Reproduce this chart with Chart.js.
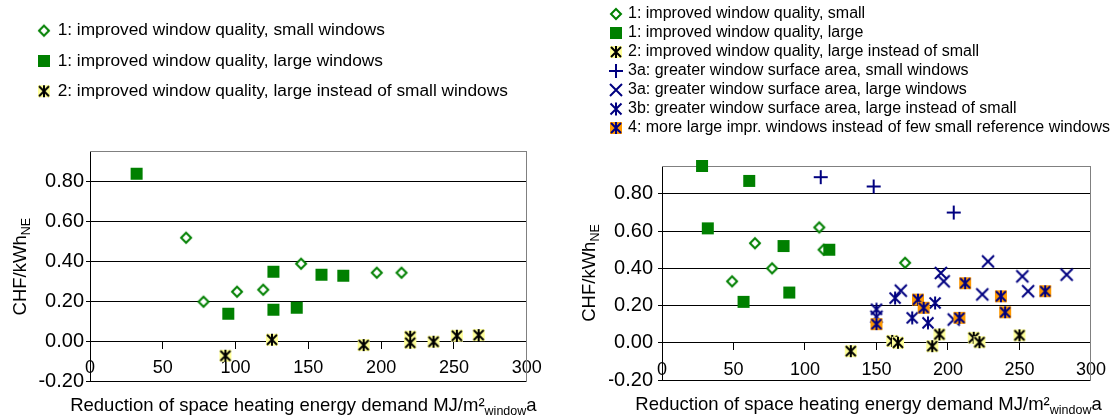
<!DOCTYPE html>
<html>
<head>
<meta charset="utf-8">
<title>Window measures - cost per kWh saved</title>
<script src="https://cdn.jsdelivr.net/npm/chart.js@4.4.0/dist/chart.umd.min.js"></script>
<style>
    html, body { margin: 0; padding: 0; background: #fff; overflow: hidden; }
    #leftBox { position: absolute; left: 0; top: 0; }
    #rightBox { position: absolute; left: 560px; top: 0; }
</style>
</head>
<body>
<div id="leftBox"><canvas id="chartLeft" width="560" height="420"></canvas></div>
<div id="rightBox"><canvas id="chartRight" width="555" height="420"></canvas></div>
<script>
// values: [reduction MJ/m2 window a, CHF/kWh]
const leftSmall = [[66, 0.52], [78, 0.20], [101, 0.25], [119, 0.26], [145, 0.39], [197, 0.345], [214, 0.345]];
const leftLarge = [[32, 0.84], [95, 0.14], [126, 0.35], [126, 0.16], [142, 0.17], [159, 0.335], [174, 0.33]];
const leftInstead = [[93, -0.07], [125, 0.01], [188, -0.017], [220, 0.025], [220, -0.005], [236, 0.0], [252, 0.03], [267, 0.033]];

const rightSmall = [[49, 0.33], [65, 0.535], [77, 0.40], [110, 0.62], [113, 0.50], [170, 0.43]];
const rightLarge = [[28, 0.95], [32, 0.615], [57, 0.22], [61, 0.87], [85, 0.52], [89, 0.27], [117, 0.50]];
const rightInstead = [[132, -0.045], [161, 0.01], [165, 0.0], [189, -0.018], [194, 0.045], [218, 0.027], [222, 0.003], [250, 0.04]];
const rightAreaSmall = [[111, 0.89], [148, 0.84], [204, 0.70]];
const rightAreaLarge = [[150, 0.14], [167, 0.28], [195, 0.375], [197, 0.33], [204, 0.125], [224, 0.26], [228, 0.437], [252, 0.357], [256, 0.277], [283, 0.366]];
const rightAreaInstead = [[150, 0.18], [163, 0.24], [175, 0.134], [186, 0.107], [191, 0.214]];
const rightMoreLarge = [[150, 0.10], [179, 0.232], [183, 0.188], [208, 0.134], [212, 0.32], [237, 0.25], [240, 0.164], [268, 0.277]];

const leftLabels = [
    '1: improved window quality, small windows',
    '1: improved window quality, large windows',
    '2: improved window quality, large instead of small windows'
];
const rightLabels = [
    '1: improved window quality, small',
    '1: improved window quality, large',
    '2: improved window quality, large instead of small',
    '3a: greater window surface area, small windows',
    '3a: greater window surface area, large windows',
    '3b: greater window surface area, large instead of small',
    '4: more large impr. windows instead of few small reference windows'
];

// axis ranges and tick steps
const xRange = [0, 300], xStep = 50;
const yRange = [-0.2, 0.95], yStep = 0.2;

// axis titles, split so the subscripts can be drawn smaller
const xTitle = [{ t: 'Reduction of space heating energy demand MJ/m²' }, { t: 'window', sub: true }, { t: 'a' }];
const yTitle = [{ t: 'CHF/kWh' }, { t: 'NE', sub: true }];

const FONT = "'Liberation Sans', Arial, sans-serif";
const GREEN = '#008000', NAVY = '#000080';

// marker pictures, used in the plot and in the legend
function makeMarker(kind) {
    var c = document.createElement('canvas');
    c.width = c.height = 16;
    var g = c.getContext('2d');
    var m = 8;
    g.lineWidth = 2;
    function star(r, col) {
        g.strokeStyle = col;
        g.beginPath();
        g.moveTo(m - r, m - r); g.lineTo(m + r, m + r);
        g.moveTo(m + r, m - r); g.lineTo(m - r, m + r);
        g.moveTo(m, m - r - 1); g.lineTo(m, m + r + 1);
        g.stroke();
    }
    if (kind === 'diamond') {
        g.fillStyle = '#fff';
        g.strokeStyle = GREEN;
        g.beginPath();
        g.moveTo(m, m - 5); g.lineTo(m + 5, m); g.lineTo(m, m + 5); g.lineTo(m - 5, m);
        g.closePath();
        g.fill(); g.stroke();
    } else if (kind === 'square') {
        g.fillStyle = GREEN;
        g.fillRect(2, 2, 12, 12);
    } else if (kind === 'yellow') {
        g.fillStyle = '#FFFF99';
        g.fillRect(2, 2, 12, 12);
        star(5, '#000');
    } else if (kind === 'plus') {
        g.strokeStyle = NAVY;
        g.beginPath();
        g.moveTo(1, m); g.lineTo(15, m);
        g.moveTo(m, 1); g.lineTo(m, 15);
        g.stroke();
    } else if (kind === 'cross') {
        g.strokeStyle = NAVY;
        g.beginPath();
        g.moveTo(2, 2); g.lineTo(14, 14);
        g.moveTo(14, 2); g.lineTo(2, 14);
        g.stroke();
    } else if (kind === 'star') {
        star(5.5, NAVY);
    } else if (kind === 'orange') {
        g.fillStyle = '#FF9900';
        g.fillRect(2, 2, 12, 12);
        star(5, NAVY);
    }
    return c;
}

function toPoints(arr) {
    return arr.map(p => ({ x: p[0], y: p[1] }));
}

function makeSets(labels, series, kinds) {
    return series.map((s, i) => ({
        label: labels[i],
        data: toPoints(s),
        pointStyle: makeMarker(kinds[i]),
        pointRadius: 7,
        showLine: false,
        clip: false,
        order: series.length - i // later series are drawn on top, as in the original
    }));
}

// axis titles with subscripts
function drawParts(ctx, parts, cx, baseline, size, subSize) {
    var widths = parts.map(p => {
        ctx.font = (p.sub ? subSize : size) + 'px ' + FONT;
        return ctx.measureText(p.t).width;
    });
    var total = widths.reduce((a, b) => a + b, 0);
    var x = cx - total / 2;
    parts.forEach((p, i) => {
        ctx.font = (p.sub ? subSize : size) + 'px ' + FONT;
        ctx.fillText(p.t, x, baseline + (p.sub ? 4 : 0));
        x += widths[i];
    });
}

const axisTitles = {
    id: 'axisTitles',
    afterDraw(chart, args, opts) {
        const ctx = chart.ctx, a = chart.chartArea;
        ctx.save();
        ctx.fillStyle = '#000';
        ctx.textAlign = 'left';
        ctx.textBaseline = 'alphabetic';
        drawParts(ctx, xTitle, (a.left + a.right) / 2 + opts.xShift, opts.xBaseline, 18.5, 12.5);
        ctx.translate(a.left - opts.yGap, (a.top + a.bottom) / 2);
        ctx.rotate(-Math.PI / 2);
        drawParts(ctx, yTitle, 0, 6.5, 18.5, 12.5);
        ctx.restore();
    }
};

function makeOptions(cfg) {
    return {
        responsive: false,
        animation: false,
        layout: { padding: cfg.padding },
        plugins: {
            legend: {
                position: 'top',
                align: 'start',
                labels: {
                    usePointStyle: true,
                    boxWidth: cfg.boxWidth,
                    padding: cfg.legendPadding,
                    color: '#000',
                    font: { family: FONT, size: cfg.legendSize },
                    sort: (a, b) => a.datasetIndex - b.datasetIndex
                }
            },
            tooltip: { enabled: false },
            axisTitles: cfg.titles
        },
        scales: {
            x: {
                type: 'linear',
                position: { y: 0 },
                min: xRange[0],
                max: xRange[1],
                ticks: { stepSize: xStep, padding: 9, maxRotation: 0, color: '#000', font: { family: FONT, size: 18 } },
                grid: { drawOnChartArea: false, tickLength: 7, color: '#000' },
                border: { color: '#000', width: 1 }
            },
            y: {
                type: 'linear',
                min: yRange[0],
                max: yRange[1],
                ticks: {
                    stepSize: yStep,
                    includeBounds: false,
                    padding: cfg.yPad,
                    color: '#000',
                    font: { family: FONT, size: 20 },
                    callback: v => v.toFixed(2)
                },
                grid: { color: '#000', tickLength: 4 },
                border: { color: '#000', width: 1 },
                afterFit: s => { s.width = cfg.yWidth; }
            },
            xTop: {
                type: 'linear',
                position: 'top',
                ticks: { display: false },
                grid: { drawOnChartArea: false, drawTicks: false },
                border: { color: '#808080' },
                afterFit: s => { s.height = cfg.topGap; }
            },
            yRight: {
                type: 'linear',
                position: 'right',
                ticks: { display: false },
                grid: { drawOnChartArea: false, drawTicks: false },
                border: { color: '#808080' },
                afterFit: s => { s.width = cfg.rightGap; }
            }
        }
    };
}

new Chart(document.getElementById('chartLeft'), {
    type: 'scatter',
    data: {
        datasets: makeSets(leftLabels, [leftSmall, leftLarge, leftInstead], ['diamond', 'square', 'yellow'])
    },
    options: makeOptions({
        padding: { left: 26, top: 9, right: 0, bottom: 38.3 },
        boxWidth: 10, legendPadding: 13, legendSize: 17.3,
        yWidth: 64, yPad: 2, topGap: 41.8, rightGap: 33.3,
        titles: { xShift: -5, xBaseline: 411, yGap: 71 }
    }),
    plugins: [axisTitles]
});

new Chart(document.getElementById('chartRight'), {
    type: 'scatter',
    data: {
        datasets: makeSets(rightLabels,
            [rightSmall, rightLarge, rightInstead, rightAreaSmall, rightAreaLarge, rightAreaInstead, rightMoreLarge],
            ['diamond', 'square', 'yellow', 'plus', 'cross', 'star', 'orange'])
    },
    options: makeOptions({
        padding: { left: 49, top: 3, right: 0, bottom: 40 },
        boxWidth: 8, legendPadding: 3, legendSize: 16,
        yWidth: 53, yPad: 5, topGap: 20, rightGap: 17.3,
        titles: { xShift: -8, xBaseline: 409.5, yGap: 74 }
    }),
    plugins: [axisTitles]
});
</script>
</body>
</html>
